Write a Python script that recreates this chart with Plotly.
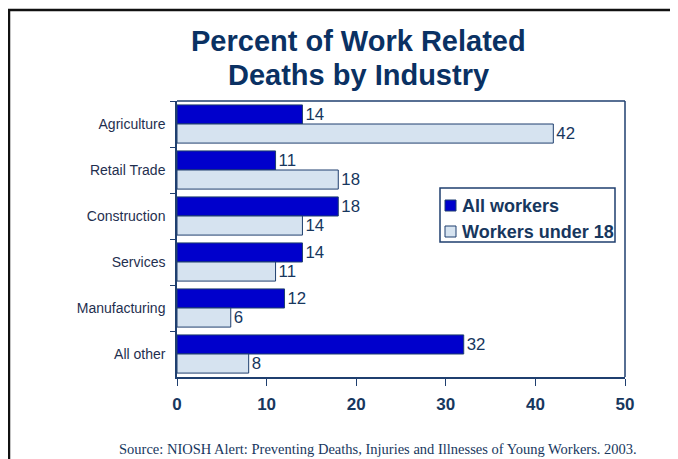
import plotly.graph_objects as go

categories = ["Agriculture", "Retail Trade", "Construction", "Services", "Manufacturing", "All other"]
all_workers = [14, 11, 18, 14, 12, 32]
under_18 = [42, 18, 14, 11, 6, 8]
series_names = ["All workers", "Workers under 18"]
x_ticks = [0, 10, 20, 30, 40, 50]

OFF = 8  # page body margin
W, H = 678 - OFF, 459 - OFF
L, R, T, B = 177 - OFF, 625 - OFF, 101 - OFF, 377 - OFF
navy = "#17375e"
line_c = "#1f3f6f"
dark_fill = "#0000CC"
light_fill = "#D6E3F0"
font = "Arial, Liberation Sans"


def px(x):
    return (x - OFF - L) / (R - L)


def py(y):
    return (B - (y - OFF)) / (B - T)


fig = go.Figure()
fig.add_trace(go.Bar(
    y=categories, x=all_workers, orientation="h", name=series_names[0],
    marker=dict(color=dark_fill, line=dict(color=line_c, width=1)),
    text=all_workers, textposition="outside", cliponaxis=False,
    textfont=dict(family=font, size=18.5, color=navy),
))
fig.add_trace(go.Bar(
    y=categories, x=under_18, orientation="h", name=series_names[1],
    marker=dict(color=light_fill, line=dict(color=line_c, width=1)),
    text=under_18, textposition="outside", cliponaxis=False,
    textfont=dict(family=font, size=18.5, color=navy),
))

shapes = [
    # plot frame top/right
    dict(type="line", xref="paper", yref="paper", x0=0, x1=1, y0=1, y1=1,
         line=dict(color=line_c, width=1.5)),
    dict(type="line", xref="paper", yref="paper", x0=1, x1=1, y0=0, y1=1,
         line=dict(color=line_c, width=1.5)),
    # outer border
    dict(type="line", xref="paper", yref="paper", x0=px(8), x1=px(700), y0=py(10), y1=py(10),
         line=dict(color="#111111", width=2.5)),
    dict(type="line", xref="paper", yref="paper", x0=px(9), x1=px(9), y0=py(10), y1=py(480),
         line=dict(color="#111111", width=2.5)),
    # legend box
    dict(type="rect", xref="paper", yref="paper", x0=px(440), x1=px(615), y0=py(188), y1=py(242),
         line=dict(color=line_c, width=1.5), fillcolor="white"),
    dict(type="rect", xref="paper", yref="paper", x0=px(445), x1=px(456), y0=py(200), y1=py(211),
         line=dict(color=line_c, width=1), fillcolor=dark_fill),
    dict(type="rect", xref="paper", yref="paper", x0=px(445), x1=px(456), y0=py(226), y1=py(237),
         line=dict(color=line_c, width=1), fillcolor=light_fill),
]

annotations = [
    dict(text="<b>Percent of Work Related</b>", xref="paper", yref="paper",
         x=px(358), y=py(41), xanchor="center", yanchor="middle", showarrow=False,
         font=dict(family=font, size=29, color="#0a3163")),
    dict(text="<b>Deaths by Industry</b>", xref="paper", yref="paper",
         x=px(358), y=py(75), xanchor="center", yanchor="middle", showarrow=False,
         font=dict(family=font, size=29, color="#0a3163")),
    dict(text="<b>" + series_names[0] + "</b>", xref="paper", yref="paper",
         x=px(460), y=py(205.5), xanchor="left", yanchor="middle", showarrow=False,
         font=dict(family=font, size=18, color=navy)),
    dict(text="<b>" + series_names[1] + "</b>", xref="paper", yref="paper",
         x=px(460), y=py(231.5), xanchor="left", yanchor="middle", showarrow=False,
         font=dict(family=font, size=18, color=navy)),
    dict(text="Source: NIOSH Alert: Preventing Deaths, Injuries and Illnesses of Young Workers. 2003.",
         xref="paper", yref="paper", x=px(378), y=py(449), xanchor="center", yanchor="middle",
         showarrow=False,
         font=dict(family="Liberation Serif, Times New Roman", size=14.5, color=navy)),
]

fig.update_layout(
    width=W, height=H,
    margin=dict(l=L, r=W - R, t=T, b=H - B, pad=0),
    paper_bgcolor="white", plot_bgcolor="white",
    barmode="group", bargap=0.17, bargroupgap=0,
    xaxis=dict(range=[0, 50], tickvals=x_ticks, ticks="outside", ticklen=7,
               tickcolor=line_c, showline=True, linecolor=line_c, linewidth=1.5,
               showgrid=False, zeroline=False,
               tickfont=dict(family=font, size=17, color=navy, weight="bold"),
               ticklabelstandoff=4),
    yaxis=dict(autorange="reversed", ticks="outside", ticklen=5, tickson="boundaries",
               tickcolor=line_c, showline=True, linecolor=line_c, linewidth=1.5,
               showgrid=False,
               tickfont=dict(family=font, size=14, color="#1f2f4f"),
               ticklabelstandoff=7),
    shapes=shapes,
    annotations=annotations,
    showlegend=False,
)

fig.write_html("out.html")
